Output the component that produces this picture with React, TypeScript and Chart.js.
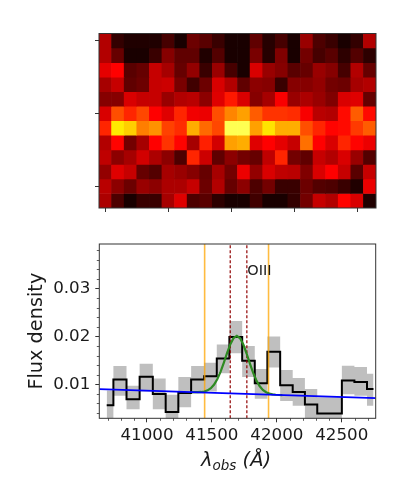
import React, { useEffect, useRef } from "react";
import { Chart, registerables } from "chart.js";

Chart.register(...registerables);

const FONT = "'DejaVu Sans'";
const TEXT = "#1a1a1a";
const AXIS = "#333333";

// ---- top panel: 2-D spectrum, hot colormap levels
const columns = ["0","1","2","3","4","5","6","7","8","9","10","11","12","13","14","15","16","17","18","19","20","21"];
const row0 = [.24,.04,.01,.01,.01,.07,0,.13,.1,.05,0,0,.11,.02,.07,0,.2,.08,.05,0,.04,.24];
const row1 = [.24,.12,0,0,.05,.17,.11,.11,.01,.09,0,0,.15,.02,.16,0,.14,.07,.1,.03,.09,.03];
const row2 = [.32,.36,.1,.12,.27,.22,.12,.19,.05,.2,.07,0,.3,.2,.17,.1,.12,.2,.17,.07,.24,.12];
const row3 = [.22,.27,.11,.13,.27,.28,.15,.06,.13,.3,.24,.11,.18,.17,.05,.17,.17,.19,.14,.13,.22,.24];
const row4 = [.17,.17,.3,.27,.27,.2,.24,.25,.18,.31,.4,.3,.17,.22,.35,.2,.23,.2,.16,.3,.31,.12];
const row5 = [.3,.48,.42,.47,.36,.31,.42,.34,.33,.48,.56,.6,.5,.44,.44,.43,.35,.25,.24,.38,.5,.38];
const row6 = [.42,.71,.67,.55,.58,.46,.43,.62,.52,.47,.83,.83,.6,.7,.62,.62,.48,.42,.37,.38,.45,.5];
const row7 = [.24,.37,.14,.22,.36,.44,.37,.22,.41,.29,.6,.62,.31,.36,.32,.27,.53,.36,.3,.42,.37,.33];
const row8 = [.26,.18,.22,.29,.23,.18,.08,.42,.28,.11,.18,.14,.12,.26,.42,.14,.11,.27,.24,.3,.2,.09];
const row9 = [.19,.31,.27,.12,.09,.22,.2,.17,.12,.22,.14,.33,.19,.3,.26,.25,.16,.3,.36,.27,.1,.27];
const row10 = [.25,.18,.13,.2,.18,.23,.23,.27,.13,.24,.12,.18,.08,.14,.05,.05,.13,.09,.08,.05,.01,.33];
const row11 = [.23,.08,0,.05,.05,.22,.31,.08,.1,.03,0,0,.06,0,0,.04,.14,.27,.24,.37,.3,.01];
const heatRows = [row0,row1,row2,row3,row4,row5,row6,row7,row8,row9,row10,row11];
const heatTicksY = [0,5,10];

// ---- bottom panel: 1-D spectrum
const wavelength = [40690,40793,40892,40995,41095,41193,41290,41390,41490,41585,41684,41782,41878,41976,42075,42169,42263,42359,42451,42550,42644,42744];
const flux = [.0056,.011,.0069,.0116,.008,.0042,.0082,.011,.0117,.0154,.0199,.0149,.0102,.0168,.0098,.0084,.0058,.0039,.0039,.0108,.0105,.009];
const fluxUpper = [.0087,.0138,.0097,.0143,.0112,.0078,.0115,.0138,.0145,.0183,.0232,.0180,.0132,.0200,.0130,.0113,.0090,.0073,.0073,.0139,.0136,.0122];
const fluxLower = [.0025,.0076,.0048,.0085,.0048,.0010,.0052,.0081,.0085,.0123,.0165,.0115,.0070,.0135,.0065,.0055,.0028,.0005,.0005,.0079,.0076,.0055];

const contLambda = [40633,41700,42761];
const contFlux = [.0090,.00805,.0071];

const fitLambda = [41342,41392,41417,41442,41467,41492,41517,41542,41567,41592,41617,41642,41667,41692,41717,41742,41767,41792,41817,41842,41867,41892,41917,41942,41967,41992,42042];
const fitFlux = [.00836,.00836,.0084,.0085,.00874,.00919,.00996,.0111,.01265,.01455,.01657,.01838,.01965,.0201,.01961,.0183,.01643,.01437,.01243,.01084,.00964,.00883,.00834,.00806,.0079,.00782,.00774];

const orangeLines = [41444,41936];
const redLines = [41641,41769];
const xMajor = [41000,41500,42000,42500];
const xMinor = [40700,40800,40900,41100,41200,41300,41400,41600,41700,41800,41900,42100,42200,42300,42400,42600,42700];
const yMajor = [.01,.02,.03];
const yMinor = [.004,.006,.008,.012,.014,.016,.018,.022,.024,.026,.028,.032,.034,.036,.038];
const X_MIN = 40633, X_MAX = 42761, Y_MIN = .0029, Y_MAX = .0393;

const lineLabel = "OIII";
const yTitle = "Flux density";

function hot(v: number): string {
  const c = (x: number) => Math.round(255 * Math.max(0, Math.min(1, x)));
  return `rgb(${c((v + .04) / .4)},${c((v - .365) / .375)},${c((v - .75) / .25)})`;
}

const framePlugin = {
  id: "frame",
  afterDatasetsDraw(chart: any) {
    const { ctx, chartArea: a } = chart;
    ctx.save();
    ctx.strokeStyle = AXIS;
    ctx.lineWidth = 1;
    ctx.strokeRect(a.left, a.top, a.right - a.left, a.bottom - a.top);
    ctx.restore();
  },
};

const lowerDecor = {
  id: "lowerDecor",
  afterDraw(chart: any) {
    const { ctx, chartArea: a, scales } = chart;
    ctx.save();
    ctx.strokeStyle = AXIS;
    ctx.lineWidth = 0.8;
    xMinor.forEach((v) => {
      const p = Math.round(scales.x.getPixelForValue(v)) + .5;
      ctx.beginPath(); ctx.moveTo(p, a.bottom); ctx.lineTo(p, a.bottom + 2.5); ctx.stroke();
    });
    yMinor.forEach((v) => {
      const p = Math.round(scales.y.getPixelForValue(v)) + .5;
      ctx.beginPath(); ctx.moveTo(a.left, p); ctx.lineTo(a.left - 2.5, p); ctx.stroke();
    });
    // line name
    ctx.fillStyle = TEXT;
    ctx.font = `14.5px ${FONT}`;
    ctx.textBaseline = "alphabetic";
    ctx.textAlign = "left";
    ctx.fillText(lineLabel, scales.x.getPixelForValue(41769) + .5, 275);
    // x axis title with a subscript
    const big = `italic 19.5px ${FONT}`, small = `italic 13.5px ${FONT}`;
    const parts: [string, string, number][] = [["λ", big, 0], ["obs", small, 4], [" (Å)", big, 0]];
    let w = 0;
    parts.forEach(([t, f]) => { ctx.font = f; w += ctx.measureText(t).width; });
    let x = 236 - w / 2;
    parts.forEach(([t, f, dy]) => {
      ctx.font = f;
      ctx.fillText(t, x, 466 + dy);
      x += ctx.measureText(t).width;
    });
    ctx.restore();
  },
};

export default function App() {
  const topRef = useRef<HTMLCanvasElement>(null);
  const botRef = useRef<HTMLCanvasElement>(null);

  useEffect(() => {
    const top = new Chart(topRef.current!, {
      type: "bar",
      data: {
        labels: columns,
        datasets: heatRows.map((vals, r) => ({
          data: vals.map(() => [r - .5, r + .5]),
          backgroundColor: vals.map(hot),
          borderWidth: 0,
          barPercentage: 1,
          categoryPercentage: 1,
          grouped: false,
        })) as any,
      },
      options: {
        responsive: false,
        animation: false,
        layout: { padding: { left: 0, top: 33.5, right: 17, bottom: 0 } },
        plugins: { legend: { display: false }, tooltip: { enabled: false } },
        scales: {
          x: {
            type: "category",
            offset: true,
            grid: { display: true, drawOnChartArea: false, drawTicks: true, tickLength: 4, tickColor: AXIS, offset: false },
            border: { display: false },
            ticks: { display: false, autoSkip: false },
            afterBuildTicks: (s: any) => { s.ticks = s.ticks.filter((t: any) => t.value % 5 === 0); },
            afterFit: (s: any) => { s.height = 485 - 208; },
          },
          y: {
            type: "linear",
            reverse: true,
            min: -.5,
            max: 11.5,
            grid: { display: true, drawOnChartArea: false, drawTicks: true, tickLength: 4, tickColor: AXIS },
            border: { display: false },
            ticks: { display: false },
            afterBuildTicks: (s: any) => { s.ticks = heatTicksY.map((value) => ({ value })); },
            afterFit: (s: any) => { s.width = 99; },
          },
        },
      },
      plugins: [framePlugin],
    });

    const pts = (xs: number[], ys: number[]) => xs.map((x, i) => ({ x, y: ys[i] }));
    const vline = (x: number, color: string, width: number, dash: number[]) => ({
      data: [{ x, y: Y_MIN }, { x, y: Y_MAX }],
      borderColor: color,
      borderWidth: width,
      borderDash: dash,
      pointRadius: 0,
      fill: false,
    });

    // Chart.js paints the first dataset last, so the top layer is listed first.
    const bot = new Chart(botRef.current!, {
      type: "line",
      data: {
        datasets: [
          { data: pts(contLambda, contFlux), borderColor: "#0000ff", borderWidth: 1.8, pointRadius: 0, fill: false },
          { data: pts(fitLambda, fitFlux), borderColor: "#2e8b22", borderWidth: 2.2, pointRadius: 0, tension: 0, fill: false },
          ...orangeLines.map((x) => vline(x, "rgba(255,165,0,0.75)", 1.6, [])),
          ...redLines.map((x) => vline(x, "#900000", 1.2, [3, 2])),
          { data: pts(wavelength, flux), stepped: "middle", borderColor: "#000000", borderWidth: 2, pointRadius: 0, fill: false },
          { data: pts(wavelength, fluxUpper), stepped: "middle", borderWidth: 0, pointRadius: 0, backgroundColor: "rgba(128,128,128,0.5)", fill: "+1" },
          { data: pts(wavelength, fluxLower), stepped: "middle", borderWidth: 0, pointRadius: 0, fill: false },
        ] as any,
      },
      options: {
        responsive: false,
        animation: false,
        layout: { padding: { left: 0, top: 244, right: 17.3, bottom: 0 } },
        plugins: { legend: { display: false }, tooltip: { enabled: false } },
        scales: {
          x: {
            type: "linear",
            min: X_MIN,
            max: X_MAX,
            grid: { display: true, drawOnChartArea: false, drawTicks: true, tickLength: 4, tickColor: AXIS },
            border: { display: false },
            ticks: { color: TEXT, font: { family: FONT, size: 16.7 }, padding: 3, maxRotation: 0, autoSkip: false, callback: (v: any) => String(v) },
            afterBuildTicks: (s: any) => { s.ticks = xMajor.map((value) => ({ value })); },
            afterFit: (s: any) => { s.height = 485 - 418.3; },
          },
          y: {
            type: "linear",
            min: Y_MIN,
            max: Y_MAX,
            grid: { display: true, drawOnChartArea: false, drawTicks: true, tickLength: 4, tickColor: AXIS },
            border: { display: false },
            title: { display: true, text: yTitle, color: TEXT, font: { family: FONT, size: 19.3 }, padding: { top: 25, bottom: 0 } },
            ticks: { color: TEXT, font: { family: FONT, size: 16.7 }, padding: 5, callback: (v: any) => Number(v).toFixed(2) },
            afterBuildTicks: (s: any) => { s.ticks = yMajor.map((value) => ({ value })); },
            afterFit: (s: any) => { s.width = 99.3; },
          },
        },
      },
      plugins: [framePlugin, lowerDecor],
    });

    return () => { top.destroy(); bot.destroy(); };
  }, []);

  const canvasStyle: React.CSSProperties = { position: "absolute", left: 0, top: 0 };
  return (
    <div style={{ position: "absolute", left: 0, top: 0, width: 393, height: 485, background: "#fff" }}>
      <canvas ref={topRef} width={393} height={485} style={canvasStyle} />
      <canvas ref={botRef} width={393} height={485} style={canvasStyle} />
    </div>
  );
}
